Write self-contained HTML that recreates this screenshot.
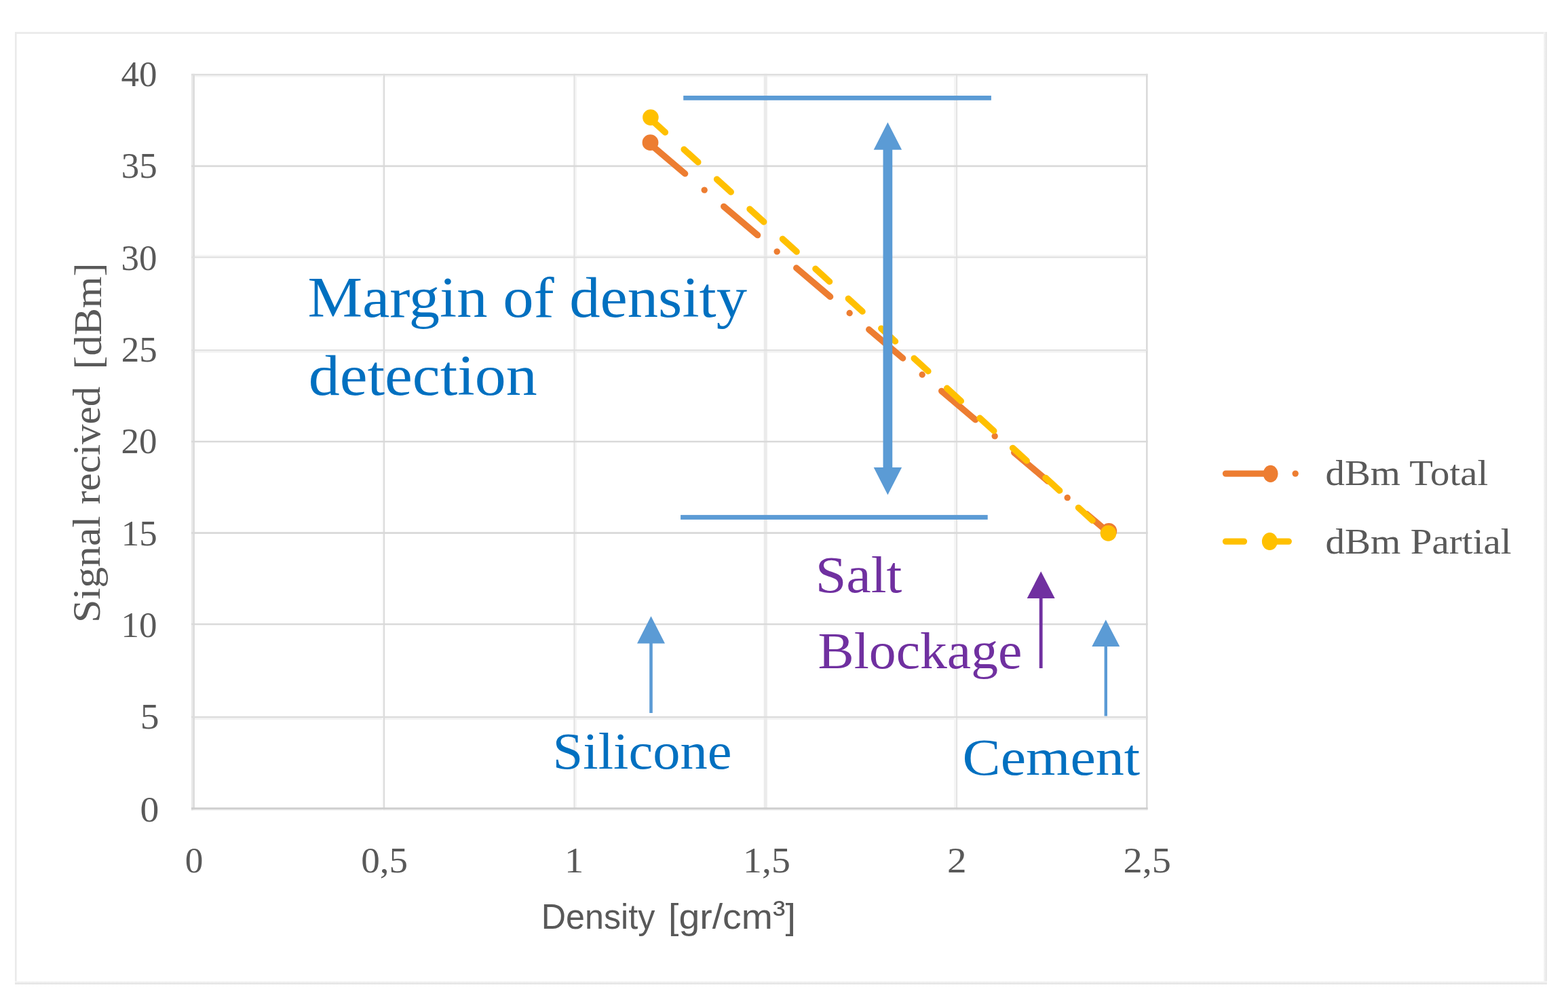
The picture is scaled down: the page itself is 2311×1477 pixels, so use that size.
<!DOCTYPE html>
<html lang="en">
<head>
<meta charset="utf-8">
<title>Signal recived vs density</title>
<style>
html,body{margin:0;padding:0;background:#ffffff;}
body{width:2311px;height:1477px;overflow:hidden;}
svg{display:block;}
text{white-space:pre;}
</style>
</head>
<body>
<svg width="2311" height="1477" viewBox="0 0 2311 1477" role="img" aria-label="Signal recived [dBm] versus Density [gr/cm³]">
<rect x="0" y="0" width="2311" height="1477" fill="#ffffff"/>
<defs><linearGradient id="gr" x1="0" x2="1" y1="0" y2="0"><stop offset="0" stop-color="#f6f6f6"/><stop offset="1" stop-color="#e4e4e4"/></linearGradient><linearGradient id="gb" x1="0" x2="0" y1="0" y2="1"><stop offset="0" stop-color="#f8f8f8"/><stop offset="1" stop-color="#e0e0e0"/></linearGradient></defs>
<g id="frame">
<rect x="22.00" y="47.20" width="2.60" height="1403.80" fill="#eaeaea"/>
<rect x="22.00" y="47.20" width="2258.00" height="2.70" fill="#eaeaea"/>
<rect x="2275" y="47.2" width="5" height="1403.8" fill="url(#gr)"/>
<rect x="22" y="1446.3" width="2258" height="4.7" fill="url(#gb)"/>
</g>
<g id="grid">
<rect x="281.90" y="111.20" width="1409.70" height="2.30" fill="#f4f4f4"/>
<rect x="281.90" y="375.70" width="1409.70" height="2.50" fill="#f5f5f5"/>
<rect x="281.90" y="517.40" width="1409.70" height="2.80" fill="#f4f4f4"/>
<rect x="281.90" y="921.20" width="1409.70" height="1.20" fill="#f8f8f8"/>
<rect x="281.90" y="1058.10" width="1409.70" height="2.70" fill="#f2f2f2"/>
<rect x="281.90" y="1193.20" width="1409.70" height="1.50" fill="#f0f0f0"/>
<rect x="281.90" y="108.80" width="2.60" height="1085.90" fill="#e8e8e8"/>
<rect x="562.70" y="108.80" width="2.10" height="1085.90" fill="#fafafa"/>
<rect x="847.50" y="108.80" width="2.50" height="1085.90" fill="#f5f5f5"/>
<rect x="1406.00" y="108.80" width="3.10" height="1085.90" fill="#f5f5f5"/>
<rect x="284.50" y="108.80" width="2.30" height="1084.40" fill="#d8d8d8"/>
<rect x="564.80" y="108.80" width="2.40" height="1084.40" fill="#dcdcdc"/>
<rect x="845.40" y="108.80" width="2.10" height="1084.40" fill="#e2e2e2"/>
<rect x="1125.70" y="108.80" width="5.10" height="1084.40" fill="#ebebeb"/>
<rect x="1409.10" y="108.80" width="2.00" height="1084.40" fill="#e3e3e3"/>
<rect x="1689.00" y="108.80" width="2.60" height="1084.40" fill="#dadada"/>
<rect x="281.90" y="108.80" width="1409.70" height="2.40" fill="#dedede"/>
<rect x="281.90" y="243.50" width="1409.70" height="2.70" fill="#d9d9d9"/>
<rect x="281.90" y="378.20" width="1409.70" height="2.20" fill="#e0e0e0"/>
<rect x="281.90" y="515.10" width="1409.70" height="2.30" fill="#e0e0e0"/>
<rect x="281.90" y="649.70" width="1409.70" height="2.50" fill="#d9d9d9"/>
<rect x="281.90" y="784.20" width="1409.70" height="2.80" fill="#d9d9d9"/>
<rect x="281.90" y="918.90" width="1409.70" height="2.30" fill="#d9d9d9"/>
<rect x="281.90" y="1055.80" width="1409.70" height="2.30" fill="#dcdcdc"/>
<rect x="281.90" y="1190.30" width="1409.70" height="2.90" fill="#cecece"/>
</g>
<g id="yticks">
<text transform="translate(178.49,126.70) scale(0.9900,1)" font-family='"Liberation Serif", "DejaVu Serif", serif' font-size="53.5" fill="#595959">40</text>
<text transform="translate(178.75,261.60) scale(0.9900,1)" font-family='"Liberation Serif", "DejaVu Serif", serif' font-size="53.5" fill="#595959">35</text>
<text transform="translate(178.49,398.30) scale(0.9900,1)" font-family='"Liberation Serif", "DejaVu Serif", serif' font-size="53.5" fill="#595959">30</text>
<text transform="translate(178.75,532.90) scale(0.9900,1)" font-family='"Liberation Serif", "DejaVu Serif", serif' font-size="53.5" fill="#595959">25</text>
<text transform="translate(178.49,668.40) scale(0.9900,1)" font-family='"Liberation Serif", "DejaVu Serif", serif' font-size="53.5" fill="#595959">20</text>
<text transform="translate(178.75,804.30) scale(0.9900,1)" font-family='"Liberation Serif", "DejaVu Serif", serif' font-size="53.5" fill="#595959">15</text>
<text transform="translate(178.49,939.20) scale(0.9900,1)" font-family='"Liberation Serif", "DejaVu Serif", serif' font-size="53.5" fill="#595959">10</text>
<text transform="translate(206.71,1073.50) scale(1.0400,1)" font-family='"Liberation Serif", "DejaVu Serif", serif' font-size="53.5" fill="#595959">5</text>
<text transform="translate(206.43,1210.50) scale(1.0400,1)" font-family='"Liberation Serif", "DejaVu Serif", serif' font-size="53.5" fill="#595959">0</text>
</g>
<g id="series">
<path d="M958.5,212.6 L1634.3,785.4" stroke="#ed7d31" stroke-width="9.35" stroke-linecap="round" fill="none" stroke-dasharray="65.45 37.40 0.01 37.40" stroke-dashoffset="-1.6"/>
<circle cx="958.5" cy="210.2" r="11.9" fill="#ed7d31"/>
<circle cx="1634.3" cy="783.0" r="11.9" fill="#ed7d31"/>
<path d="M958.9,175.5 L1633.5,788.4" stroke="#ffc000" stroke-width="9.35" stroke-linecap="round" fill="none" stroke-dasharray="28.05 37.40" stroke-dashoffset="-1.0"/>
<circle cx="958.9" cy="173.1" r="11.8" fill="#ffc000"/>
<circle cx="1633.5" cy="786.0" r="11.8" fill="#ffc000"/>
</g>
<g id="shapes">
<rect x="1007.20" y="141.00" width="453.70" height="6.80" fill="#5b9bd5"/>
<rect x="1003.10" y="759.10" width="452.60" height="6.80" fill="#5b9bd5"/>
<path d="M1308.4,180.2 L1329.1000000000001,220.8 L1315.25,220.8 L1315.25,689.0 L1329.1000000000001,689.0 L1308.4,729.4 L1287.7,689.0 L1301.5500000000002,689.0 L1301.5500000000002,220.8 L1287.7,220.8 Z" fill="#5b9bd5"/>
<path d="M959.5,908.3 L980.0,948.5 L961.8,948.5 L961.8,1051.1 L957.2,1051.1 L957.2,948.5 L939.0,948.5 Z" fill="#5b9bd5"/>
<path d="M1629.8,913.6 L1650.3,953.0 L1632.0,953.0 L1632.0,1055.6 L1627.6,1055.6 L1627.6,953.0 L1609.3,953.0 Z" fill="#5b9bd5"/>
<path d="M1534.2,842.3 L1554.7,882.1 L1536.6000000000001,882.1 L1536.6000000000001,985.0 L1531.8,985.0 L1531.8,882.1 L1513.7,882.1 Z" fill="#7030a0"/>
</g>
<g id="notes">
<text transform="translate(453.43,467.20) scale(1.0788,1)" font-family='"Liberation Serif", "DejaVu Serif", serif' font-size="84" fill="#0070c0">Margin of density</text>
<text transform="translate(454.68,582.30) scale(1.0950,1)" font-family='"Liberation Serif", "DejaVu Serif", serif' font-size="84" fill="#0070c0">detection</text>
<text transform="translate(1201.66,873.10) scale(1.0810,1)" font-family='"Liberation Serif", "DejaVu Serif", serif' font-size="76" fill="#7030a0">Salt</text>
<text transform="translate(1205.51,985.00) scale(1.0487,1)" font-family='"Liberation Serif", "DejaVu Serif", serif' font-size="76" fill="#7030a0">Blockage</text>
<text transform="translate(814.57,1132.50) scale(1.0597,1)" font-family='"Liberation Serif", "DejaVu Serif", serif' font-size="76" fill="#0070c0">Silicone</text>
<text transform="translate(1418.53,1142.10) scale(1.1072,1)" font-family='"Liberation Serif", "DejaVu Serif", serif' font-size="76" fill="#0070c0">Cement</text>
</g>
<g id="xticks">
<text transform="translate(272.74,1285.90) scale(0.9954,1)" font-family='"Liberation Serif", "DejaVu Serif", serif' font-size="53.5" fill="#595959">0</text>
<text transform="translate(532.17,1285.90) scale(1.0308,1)" font-family='"Liberation Serif", "DejaVu Serif", serif' font-size="53.5" fill="#595959">0,5</text>
<text transform="translate(832.11,1285.90) scale(1.0600,1)" font-family='"Liberation Serif", "DejaVu Serif", serif' font-size="53.5" fill="#595959">1</text>
<text transform="translate(1095.06,1285.90) scale(1.0434,1)" font-family='"Liberation Serif", "DejaVu Serif", serif' font-size="53.5" fill="#595959">1,5</text>
<text transform="translate(1395.97,1285.90) scale(1.0700,1)" font-family='"Liberation Serif", "DejaVu Serif", serif' font-size="53.5" fill="#595959">2</text>
<text transform="translate(1655.46,1285.90) scale(1.0541,1)" font-family='"Liberation Serif", "DejaVu Serif", serif' font-size="53.5" fill="#595959">2,5</text>
</g>
<g id="xtitle">
<text transform="translate(797.78,1368.70) scale(0.9666,1)" font-family='"Liberation Sans", "DejaVu Sans", sans-serif' font-size="52" fill="#595959">Density</text>
<text transform="translate(985.12,1368.70) scale(1.0651,1)" font-family='"Liberation Sans", "DejaVu Sans", sans-serif' font-size="52" fill="#595959">[gr/cm<tspan dy="-5">³</tspan><tspan dy="5">]</tspan></text>
</g>
<g id="ytitle">
<text transform="translate(147.4,914.10) rotate(-90) translate(-4.01,0) scale(1.0631,1)" font-family='"Liberation Serif", "DejaVu Serif", serif' font-size="58" fill="#595959">Signal</text>
<text transform="translate(147.4,742.20) rotate(-90) translate(-1.18,0) scale(1.0179,1)" font-family='"Liberation Serif", "DejaVu Serif", serif' font-size="58" fill="#595959">recived</text>
<text transform="translate(148.6,540.00) rotate(-90) translate(-4.52,0) scale(1.0380,1)" font-family='"Liberation Serif", "DejaVu Serif", serif' font-size="58" fill="#595959">[dBm]</text>
</g>
<g id="legend">
<path d="M1806.5,698.1 L1872.4,698.1" stroke="#ed7d31" stroke-width="9.35" stroke-linecap="round" fill="none"/>
<ellipse cx="1872.6" cy="698.3" rx="10.9" ry="12.6" fill="#ed7d31"/>
<circle cx="1909.2" cy="698.1" r="4.675" fill="#ed7d31"/>
<path d="M1806.5,798.1 L1833.5,798.1 M1871.4,798.1 L1899.3,798.1" stroke="#ffc000" stroke-width="9.35" stroke-linecap="round" fill="none"/>
<ellipse cx="1871.4" cy="798.1" rx="11.5" ry="13.0" fill="#ffc000"/>
<text transform="translate(1953.51,715.40) scale(1.0829,1)" font-family='"Liberation Serif", "DejaVu Serif", serif' font-size="52.5" fill="#595959">dBm Total</text>
<text transform="translate(1953.50,815.50) scale(1.0871,1)" font-family='"Liberation Serif", "DejaVu Serif", serif' font-size="52.5" fill="#595959">dBm Partial</text>
</g>
</svg>
</body>
</html>
